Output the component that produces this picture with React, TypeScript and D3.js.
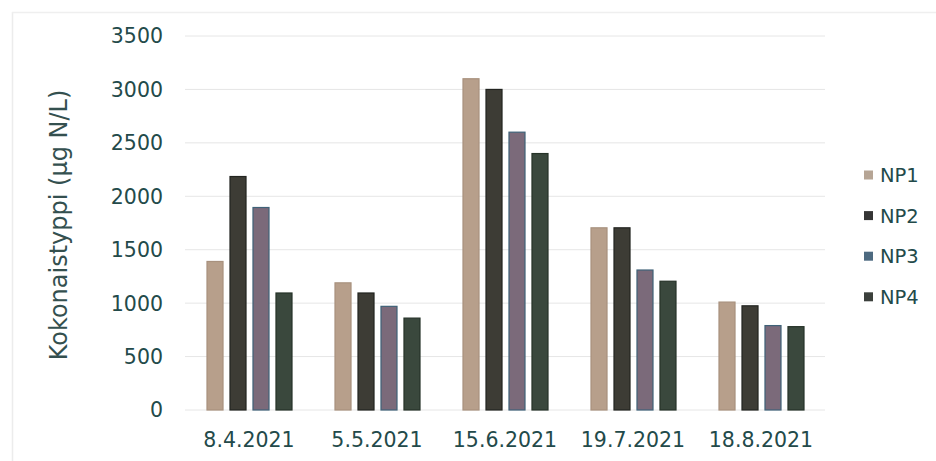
import React from "react";
import * as d3 from "d3";

// Sampling dates and total nitrogen (µg N/L) per sampling point
const dates = ["8.4.2021", "5.5.2021", "15.6.2021", "19.7.2021", "18.8.2021"];
const seriesNames = ["NP1", "NP2", "NP3", "NP4"];
const np1 = [1390, 1190, 3100, 1705, 1010];
const np2 = [2185, 1095, 3000, 1705, 975];
const np3 = [1895, 970, 2600, 1310, 790];
const np4 = [1095, 860, 2400, 1205, 780];
const yTicks = [0, 500, 1000, 1500, 2000, 2500, 3000, 3500];

const seriesValues = [np1, np2, np3, np4];
const barFill = ["#b79f8b", "#3d3c35", "#7b6a7a", "#3a483d"];
const barEdge = ["#a8917e", "#222420", "#3f6278", "#263328"];
const legendFill = ["#b6a595", "#353535", "#4d6a80", "#3b403c"];

const W = 936;
const H = 461;
const plot = { left: 185, right: 825, top: 36, bottom: 410 };
const textColor = "#234a4a";
const font = "'DejaVu Sans', Verdana, sans-serif";

export default function App() {
  const x = d3.scaleBand<string>().domain(dates).range([plot.left, plot.right]).padding(0);
  const inner = d3
    .scaleBand<string>()
    .domain(seriesNames)
    .range([21.5, x.bandwidth() - 20.5])
    .paddingInner(0.26)
    .paddingOuter(0);
  const y = d3.scaleLinear().domain([0, 3500]).range([plot.bottom, plot.top]);

  return (
    <svg
      width={W}
      height={H}
      style={{ position: "absolute", left: 0, top: 0, background: "#fff" }}
      fontFamily={font}
    >
      <rect x={0} y={0} width={W} height={H} fill="#fff" />
      {/* faint chart frame */}
      <line x1={12.5} y1={12} x2={12.5} y2={H} stroke="#ececec" strokeWidth={1.5} />
      <line x1={12} y1={12.5} x2={W} y2={12.5} stroke="#efefef" strokeWidth={1.5} />

      {/* gridlines */}
      {yTicks.map((t) => (
        <line
          key={`g${t}`}
          x1={plot.left}
          x2={plot.right}
          y1={y(t)}
          y2={y(t)}
          stroke="#e6e6e6"
          strokeWidth={1}
        />
      ))}

      {/* y tick labels */}
      {yTicks.map((t) => (
        <text
          key={`t${t}`}
          x={163}
          y={y(t)}
          dy="0.36em"
          textAnchor="end"
          fontSize={20.5}
          fill={textColor}
        >
          {t}
        </text>
      ))}

      {/* y axis title */}
      <text
        transform={`translate(67, 225) rotate(-90)`}
        textAnchor="middle"
        fontSize={24}
        fill="#34504f"
      >
        Kokonaistyppi (µg N/L)
      </text>

      {/* bars */}
      {dates.map((d, i) => (
        <g key={d} transform={`translate(${x(d)},0)`}>
          {seriesNames.map((s, j) => {
            const v = seriesValues[j][i];
            return (
              <rect
                key={s}
                x={inner(s)! + 0.5}
                y={y(v)}
                width={inner.bandwidth() - 1}
                height={y(0) - y(v)}
                fill={barFill[j]}
                stroke={barEdge[j]}
                strokeWidth={1.2}
              />
            );
          })}
        </g>
      ))}

      {/* category labels */}
      {dates.map((d) => (
        <text
          key={`c${d}`}
          x={x(d)! + x.bandwidth() / 2}
          y={447}
          textAnchor="middle"
          fontSize={20.5}
          fill={textColor}
        >
          {d}
        </text>
      ))}

      {/* legend */}
      {seriesNames.map((s, j) => {
        const cy = 175 + j * 40.6;
        return (
          <g key={`l${s}`}>
            <rect x={864} y={cy - 4.5} width={9} height={9} fill={legendFill[j]} />
            <text x={880} y={cy} dy="0.36em" fontSize={19.5} fill={textColor}>
              {s}
            </text>
          </g>
        );
      })}
    </svg>
  );
}
